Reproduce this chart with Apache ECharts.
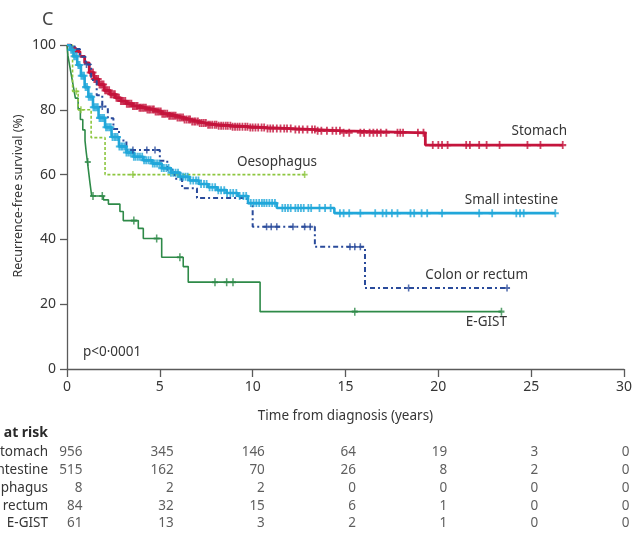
<!DOCTYPE html>
<html>
<head>
<meta charset="utf-8">
<script src="https://cdn.jsdelivr.net/npm/echarts@6/dist/echarts.min.js"></script>
<style>
  html, body { margin: 0; padding: 0; background: #ffffff; }
  #chart { width: 634px; height: 533px; }
</style>
</head>
<body>
<div id="chart"></div>
<script>
// Kaplan–Meier steps per site: [years from diagnosis, % recurrence-free]
const stomachSteps = [
  [0,100],[0.2,99.2],[0.45,98],[0.7,96.5],[0.95,94.5],[1.2,91.5],[1.45,89.5],[1.7,87.8],
  [2.0,86],[2.3,84.8],[2.6,83.7],[2.9,82.7],[3.2,81.9],[3.55,81.2],[3.9,80.6],[4.3,80.1],
  [4.7,79.5],[5.1,78.8],[5.5,78.2],[5.9,77.6],[6.3,77],[6.7,76.4],[7.1,75.9],[7.5,75.4],
  [8.1,75.1],[8.9,74.8],[9.8,74.5],[10.8,74.2],[12.1,73.9],[13.4,73.5],[14.9,72.9],
  [19.3,69.1],[26.7,69.1]
];
const smallIntestineSteps = [
  [0,100],[0.15,98.5],[0.35,96.5],[0.55,93.8],[0.75,90.5],[0.95,87],[1.15,84],[1.4,80.8],
  [1.7,77.5],[2.05,74.6],[2.4,71.6],[2.8,68.7],[3.2,66.8],[3.6,65.5],[4.1,64.4],[4.6,63.4],
  [5.1,62],[5.6,60.6],[6.1,59.3],[6.6,58.2],[7.1,57.1],[7.6,56.1],[8.1,55.2],[8.6,54.3],
  [9.2,53.4],[9.75,51.2],[11.3,49.7],[14.4,48.1],[26.3,48.1]
];
const oesophagusSteps = [
  [0,100],[0.3,85.7],[0.6,80],[1.3,71.4],[2.05,60],[12.8,60]
];
const colonSteps = [
  [0,100],[0.4,98.8],[0.7,96.4],[1.0,94],[1.3,89.2],[1.6,84.5],[1.9,81],[2.2,77.4],
  [2.5,74.1],[2.8,70.5],[3.2,67.6],[5.0,64.3],[5.4,61.5],[5.8,58.7],[6.2,55.8],[7.0,52.8],
  [9.7,51.2],[10.0,43.9],[13.35,37.7],[16.05,25],[23.7,25]
];
const egistSteps = [
  [0,100],[0.05,96.7],[0.15,93.4],[0.25,90.2],[0.35,86.9],[0.45,83.6],[0.6,80.3],[0.72,77],
  [0.85,73.8],[0.97,70.5],[1.03,67.2],[1.1,63.9],[1.17,60.6],[1.24,57.3],[1.33,53.4],
  [1.96,52.2],[2.23,50.9],[2.85,48.6],[3.03,45.8],[3.84,43.4],[4.11,40.3],[5.1,34.5],
  [6.26,31.6],[6.53,26.8],[10.4,17.7],[23.4,17.7]
];

// Censoring times (years)
const stomachCensored = [
  1.25,1.32,1.4,1.47,1.55,1.6,1.68,1.75,1.83,1.9,1.97,2.05,2.12,2.18,2.27,2.35,2.41,2.5,
  2.58,2.66,2.73,2.8,2.9,2.97,3.05,3.14,3.22,3.3,3.38,3.47,3.55,3.63,3.72,3.8,3.9,3.98,
  4.07,4.15,4.25,4.33,4.42,4.5,4.6,4.68,4.77,4.86,4.95,5.05,5.13,5.22,5.3,5.4,5.5,5.58,
  5.67,5.76,5.85,5.95,6.05,6.14,6.25,6.33,6.44,6.55,6.63,6.74,6.85,6.93,7.05,7.15,7.26,
  7.37,7.48,7.6,7.7,7.82,7.95,8.05,8.17,8.3,8.42,8.55,8.66,8.8,8.92,9.05,9.18,9.3,9.45,
  9.6,9.72,9.87,10.0,10.15,10.3,10.48,10.62,10.8,10.95,11.1,11.3,11.5,11.7,11.85,12.05,
  12.3,12.5,12.7,12.95,13.2,13.35,13.5,13.7,14.0,14.3,14.5,14.7,14.9,15.2,15.8,16.0,16.3,
  16.5,16.7,16.9,17.2,17.8,17.95,18.1,18.9,19.2,19.7,20.0,20.2,20.5,21.5,21.7,22.2,22.6,
  23.3,24.8,25.5,26.7
];
const smallIntestineCensored = [
  0.22,0.3,0.38,0.46,0.53,0.61,0.68,0.77,0.85,0.92,1.0,1.08,1.17,1.25,1.33,1.42,1.5,1.58,
  1.66,1.75,1.83,1.92,2.0,2.1,2.18,2.27,2.36,2.45,2.55,2.63,2.72,2.82,2.92,3.0,3.1,3.2,
  3.3,3.4,3.5,3.6,3.7,3.82,3.93,4.05,4.15,4.26,4.38,4.5,4.62,4.73,4.85,4.97,5.1,5.22,
  5.35,5.47,5.6,5.72,5.85,5.98,6.1,6.25,6.38,6.5,6.65,6.8,6.95,7.08,7.22,7.38,7.52,7.68,
  7.83,7.98,8.15,8.3,8.47,8.62,8.8,8.95,9.12,9.3,9.5,9.65,9.9,10.05,10.2,10.35,10.5,10.62,
  10.75,10.9,11.05,11.2,11.6,11.75,11.9,12.05,12.3,12.45,12.6,12.75,13.0,13.15,13.6,13.9,
  14.2,14.7,14.9,15.2,15.8,16.6,17.0,17.2,17.5,17.8,18.5,18.7,19.1,19.4,20.2,22.2,22.9,
  24.2,24.4,24.6,26.3
];
const oesophagusCensored = [0.5, 0.75, 3.55, 5.98, 12.8];
const colonCensored = [
  1.05,1.9,3.55,4.3,4.74,10.75,11.0,11.3,12.17,12.8,13.1,15.24,15.5,15.8,18.4,23.7
];
const egistCensored = [1.12,1.4,1.9,3.6,4.83,6.08,7.97,8.6,8.94,15.5,23.4];

// Number at risk
const riskTimes = [0, 5, 10, 15, 20, 25, 30];
const riskGroups = ['Stomach', 'Small intestine', 'Oesophagus', 'Colon or rectum', 'E-GIST'];
const riskStomach = [956, 345, 146, 64, 19, 3, 0];
const riskSmallIntestine = [515, 162, 70, 26, 8, 2, 0];
const riskOesophagus = [8, 2, 2, 0, 0, 0, 0];
const riskColon = [84, 32, 15, 6, 1, 0, 0];
const riskEgist = [61, 13, 3, 2, 1, 0, 0];

// Axis ticks
const xTickStep = 5;
const yTickStep = 20;

const FONT = '"Noto Sans", "Open Sans", sans-serif';
const TEXT = '#363636';
const AXIS = '#5a5a5a';

const COLORS = {
  stomach: '#c4143c',
  small: '#21a7da',
  oeso: '#8cc63e',
  colon: '#2a4b9b',
  egist: '#2e8a48'
};

// censoring tick: a small plus sign
const PLUS = 'path://M0,2.6h7v1.8h-7z M2.6,0h1.8v7h-1.8z';

function survivalAt(steps, t) {
  let v = steps[0][1];
  for (const [x, y] of steps) { if (x <= t) v = y; }
  return v;
}

function curve(name, steps, color, width, type, z) {
  return {
    name, type: 'line', step: 'end', data: steps, xAxisIndex: 0, yAxisIndex: 0,
    showSymbol: false, symbol: 'none', z,
    lineStyle: { color, width, type, cap: 'butt' },
    silent: true
  };
}

function censors(name, steps, times, color, size, z) {
  return {
    name: name + ' censored', type: 'scatter', xAxisIndex: 0, yAxisIndex: 0,
    data: times.map(t => [t, survivalAt(steps, t)]),
    symbol: PLUS, symbolSize: size, z,
    itemStyle: { color }, silent: true
  };
}

const riskRows = [riskStomach, riskSmallIntestine, riskOesophagus, riskColon, riskEgist];
const riskData = [];
riskRows.forEach((row, r) => {
  row.forEach((n, c) => riskData.push([riskTimes[c], riskGroups[r], n]));
});

const chart = echarts.init(document.getElementById('chart'), null, { renderer: 'canvas' });

const option = {
  animation: false,
  backgroundColor: '#ffffff',
  textStyle: { fontFamily: FONT },
  grid: [
    { left: 67, right: 10, top: 45, height: 324, containLabel: false, outerBoundsMode: 'none' },
    { left: 83, right: 4, top: 443.5, height: 89, containLabel: false, outerBoundsMode: 'none' }
  ],
  xAxis: [
    {
      type: 'value', gridIndex: 0, min: 0, max: 30, interval: xTickStep,
      name: 'Time from diagnosis (years)', nameLocation: 'middle', nameGap: 40,
      nameTextStyle: { color: TEXT, fontSize: 13.5, fontFamily: FONT },
      axisLine: { show: true, onZero: false, lineStyle: { color: AXIS, width: 1.3 } },
      axisTick: { show: true, length: 8, lineStyle: { color: AXIS, width: 1.3 } },
      axisLabel: { color: TEXT, fontSize: 14, margin: 11, fontFamily: FONT,
                   showMinLabel: true, showMaxLabel: true },
      splitLine: { show: false }
    },
    {
      type: 'value', gridIndex: 1, min: 0, max: 30, show: false
    }
  ],
  yAxis: [
    {
      type: 'value', gridIndex: 0, min: 0, max: 100, interval: yTickStep,
      axisLine: { show: true, onZero: false, lineStyle: { color: AXIS, width: 1.3 } },
      axisTick: { show: true, length: 7, lineStyle: { color: AXIS, width: 1.3 } },
      axisLabel: { color: TEXT, fontSize: 14, margin: 11, fontFamily: FONT },
      splitLine: { show: false }
    },
    {
      type: 'category', gridIndex: 1, data: riskGroups, inverse: true,
      axisLine: { show: false }, axisTick: { show: false }, splitLine: { show: false },
      axisLabel: { color: TEXT, fontSize: 13.5, margin: 35, interval: 0, fontFamily: FONT,
                   hideOverlap: false }
    }
  ],
  series: [
    curve('E-GIST', egistSteps, COLORS.egist, 1.6, 'solid', 2),
    censors('E-GIST', egistSteps, egistCensored, COLORS.egist, [6, 8], 3),
    curve('Oesophagus', oesophagusSteps, COLORS.oeso, 1.6, [3, 2], 2),
    censors('Oesophagus', oesophagusSteps, oesophagusCensored, COLORS.oeso, [6, 7], 3),
    curve('Stomach', stomachSteps, COLORS.stomach, 2.8, 'solid', 2),
    censors('Stomach', stomachSteps, stomachCensored, COLORS.stomach, [7, 8], 3),
    curve('Colon or rectum', colonSteps, COLORS.colon, 2, [5, 3, 2, 3], 4),
    curve('Small intestine', smallIntestineSteps, COLORS.small, 2.6, 'solid', 5),
    censors('Small intestine', smallIntestineSteps, smallIntestineCensored, COLORS.small, [7, 8], 5),
    censors('Colon or rectum', colonSteps, colonCensored, COLORS.colon, [6, 7], 6),
    {
      name: 'Number at risk', type: 'scatter', xAxisIndex: 1, yAxisIndex: 1,
      data: riskData, symbolSize: 1, itemStyle: { color: 'rgba(0,0,0,0)' }, silent: true,
      label: {
        show: true, position: 'left', distance: 0, color: TEXT, fontSize: 13.5,
        fontFamily: FONT, formatter: p => String(p.value[2])
      }
    }
  ],
  graphic: [
    { type: 'text', left: 42, top: 11,
      style: { text: 'C', fill: '#444', font: '18px ' + FONT } },
    { type: 'text', x: 18, y: 196, rotation: Math.PI / 2,
      style: { text: 'Recurrence-free survival (%)', fill: TEXT, font: '12.5px ' + FONT,
               textAlign: 'center', textVerticalAlign: 'middle' } },
    { type: 'text', x: 567, y: 131,
      style: { text: 'Stomach', fill: TEXT, font: '13.5px ' + FONT, textAlign: 'right', textVerticalAlign: 'middle' } },
    { type: 'text', x: 317, y: 162,
      style: { text: 'Oesophagus', fill: TEXT, font: '13.5px ' + FONT, textAlign: 'right', textVerticalAlign: 'middle' } },
    { type: 'text', x: 558, y: 200,
      style: { text: 'Small intestine', fill: TEXT, font: '13.5px ' + FONT, textAlign: 'right', textVerticalAlign: 'middle' } },
    { type: 'text', x: 528, y: 275,
      style: { text: 'Colon or rectum', fill: TEXT, font: '13.5px ' + FONT, textAlign: 'right', textVerticalAlign: 'middle' } },
    { type: 'text', x: 507, y: 322,
      style: { text: 'E-GIST', fill: TEXT, font: '13.5px ' + FONT, textAlign: 'right', textVerticalAlign: 'middle' } },
    { type: 'text', x: 83, y: 352,
      style: { text: 'p<0·0001', fill: TEXT, font: '13.5px ' + FONT, textAlign: 'left', textVerticalAlign: 'middle' } },
    { type: 'text', x: 48, y: 433,
      style: { text: 'Number at risk', fill: '#2a2a2a', font: 'bold 14px ' + FONT, textAlign: 'right', textVerticalAlign: 'middle' } }
  ]
};

chart.setOption(option);
</script>
</body>
</html>
